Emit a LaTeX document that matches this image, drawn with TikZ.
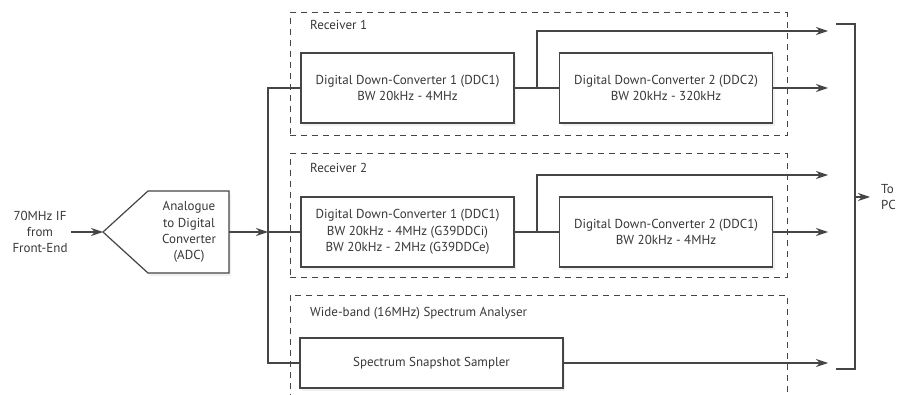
\documentclass[tikz,border=0pt]{standalone}
\usepackage{fontspec}
\setmainfont{PT Sans}
\usetikzlibrary{arrows.meta,shadows}
\definecolor{lgrey}{HTML}{454545}
\definecolor{tgrey}{HTML}{383838}
\tikzstyle{blk}=[rectangle, draw=lgrey, line width=1.2pt, fill=white, align=center, text=tgrey, inner sep=2pt, drop shadow={opacity=0.12, shadow xshift=2pt, shadow yshift=-3pt}]
\tikzstyle{ddc}=[blk, minimum width=213pt, minimum height=70pt]
\tikzstyle{grp}=[rectangle, draw=lgrey, line width=1pt, dash pattern=on 6pt off 5pt]
\tikzstyle{lbl}=[text=tgrey, anchor=west, inner sep=0pt]
\tikzstyle{wire}=[draw=lgrey, line width=1.2pt]
\tikzstyle{arr}=[wire, -{Stealth[length=12pt,width=8pt]}]

\begin{document}
\begin{tikzpicture}[x=1pt, y=-1pt, font=\fontsize{13}{16.3}\selectfont]
\useasboundingbox (0,0) rectangle (901,395);

% receiver groups
\node[grp, minimum width=497pt, minimum height=123pt] (rx1) at (538.5,74.5) {};
\node[lbl] (rx1lbl) at (310,25) {Receiver 1};
\node[grp, minimum width=497pt, minimum height=123pt] (rx2) at (538.5,215.5) {};
\node[lbl] (rx2lbl) at (310,168) {Receiver 2};
\draw[grp] (290,400) -- (290,295) -- (787,295) -- (787,400);
\node[lbl] (wblbl) at (310,313) {Wide-band (16MHz) Spectrum Analyser};

% input and ADC
\node[text=tgrey, align=center] (src) at (40,232) {70MHz IF\\from\\Front-End};
\coordinate (adctip) at (103,232);
\coordinate (adcout) at (229,232);
\draw[wire, fill=white, drop shadow={opacity=0.12, shadow xshift=2pt, shadow yshift=-3pt}]
  (adctip) -- (148,191) -- (229,191) -- (229,273) -- (148,273) -- cycle;
\node[text=tgrey, align=center] (adc) at (189,232) {Analogue\\to Digital\\Converter\\(ADC)};
\draw[arr] (src) -- (adctip);

% blocks
\node[ddc] (rx1d1) at (407.5,88) {Digital Down-Converter 1 (DDC1)\\BW 20kHz - 4MHz};
\node[ddc] (rx1d2) at (666,88) {Digital Down-Converter 2 (DDC2)\\BW 20kHz - 320kHz};
\node[ddc] (rx2d1) at (407.5,232) {Digital Down-Converter 1 (DDC1)\\BW 20kHz - 4MHz (G39DDCi)\\BW 20kHz - 2MHz (G39DDCe)};
\node[ddc] (rx2d2) at (666,232) {Digital Down-Converter 2 (DDC1)\\BW 20kHz - 4MHz};
\node[blk, minimum width=263pt, minimum height=50pt] (snap) at (431.5,363) {Spectrum Snapshot Sampler};

% bus from the ADC
\coordinate (bus) at (268,232);
\draw[arr] (adcout) -- (bus);
\draw[wire] (rx1d1.west) -| (bus) |- (snap.west);
\draw[wire] (bus) -- (rx2d1.west);

% outputs
\coordinate (br1) at (537,88);
\coordinate (br2) at (537,232);
\coordinate (o1) at (828,31);
\coordinate (o2) at (828,88);
\coordinate (o3) at (828,175);
\coordinate (o4) at (828,232);
\coordinate (o5) at (828,363);
\draw[wire] (rx1d1) -- (rx1d2);
\draw[arr] (br1) |- (o1);
\draw[arr] (rx1d2) -- (o2);
\draw[wire] (rx2d1) -- (rx2d2);
\draw[arr] (br2) |- (o3);
\draw[arr] (rx2d2) -- (o4);
\draw[arr] (snap) -- (o5);

% to the PC
\coordinate (pctop) at (836,24);
\coordinate (pcbot) at (836,369);
\coordinate (pcmid) at (855,197);
\node[lbl, align=left, inner xsep=11pt] (topc) at (870,197) {To\\PC};
\draw[wire] (pctop) -| (pcmid) |- (pcbot);
\draw[arr] (pcmid) -- (topc.west);

\end{tikzpicture}
\end{document}
